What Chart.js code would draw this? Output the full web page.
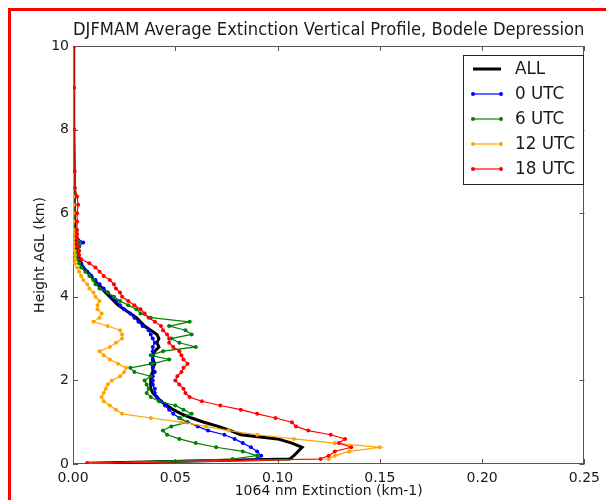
<!DOCTYPE html>
<html>
<head>
<meta charset="utf-8">
<script src="https://cdn.jsdelivr.net/npm/chart.js@4"></script>
<style>
  html, body { margin: 0; padding: 0; background: #fff; }
  #wrap { position: relative; width: 606px; height: 500px; overflow: hidden; }
  #wrap canvas { position: absolute; left: 0; top: 0; }
  #frame { position: absolute; left: 8px; top: 8px; width: 640px; height: 540px;
           border-top: 3px solid #f00; border-left: 3px solid #f00; pointer-events: none; }
</style>
</head>
<body>
<div id="wrap">
  <canvas id="chart" width="606" height="500"></canvas>
  <div id="frame"></div>
</div>
<script>
// heights (km AGL) shared by every profile
const heights = [0.02, 0.12, 0.2, 0.3, 0.4, 0.5, 0.6, 0.7, 0.8, 0.9,
  1.0, 1.1, 1.2, 1.3, 1.4, 1.5, 1.6, 1.7, 1.8, 1.9,
  2.0, 2.1, 2.2, 2.3, 2.4, 2.5, 2.6, 2.7, 2.8, 2.9,
  3.0, 3.1, 3.2, 3.3, 3.4, 3.5, 3.6, 3.7, 3.8, 3.9,
  4.0, 4.1, 4.2, 4.3, 4.4, 4.5, 4.6, 4.7, 4.8, 4.9,
  5.0, 5.1, 5.2, 5.3, 5.4, 5.5, 5.6, 5.8, 6.0, 6.2,
  6.4, 6.6, 7.0, 8.0, 9.0, 10.0];

// 1064 nm extinction (km-1)
const extAll = [0.007, 0.106, 0.108, 0.110, 0.112, 0.107, 0.100, 0.082, 0.077, 0.071,
  0.064, 0.058, 0.053, 0.049, 0.046, 0.043, 0.041, 0.039, 0.038, 0.038,
  0.038, 0.038, 0.039, 0.039, 0.040, 0.039, 0.039, 0.040, 0.042, 0.041,
  0.042, 0.041, 0.038, 0.035, 0.033, 0.031, 0.028, 0.025, 0.022, 0.020,
  0.018, 0.016, 0.014, 0.012, 0.010, 0.009, 0.007, 0.005, 0.004, 0.003,
  0.002, 0.002, 0.0015, 0.0015, 0.001, 0.001, 0.001, 0.0008, 0.0008, 0.0007,
  0.0006, 0.0005, 0.0005, 0.0004, 0.0004, 0.0003];

const ext00 = [0.007, 0.090, 0.092, 0.090, 0.087, 0.083, 0.079, 0.074, 0.066, 0.061,
  0.056, 0.052, 0.049, 0.047, 0.045, 0.043, 0.041, 0.040, 0.040, 0.039,
  0.039, 0.039, 0.040, 0.039, 0.038, 0.039, 0.039, 0.039, 0.039, 0.040,
  0.039, 0.038, 0.037, 0.034, 0.032, 0.030, 0.028, 0.025, 0.023, 0.021,
  0.019, 0.017, 0.015, 0.013, 0.011, 0.009, 0.007, 0.005, 0.004, 0.003,
  0.0025, 0.002, 0.003, 0.005, 0.002, 0.0015, 0.001, 0.0008, 0.0006, 0.0005,
  0.0004, 0.0004, 0.0003, 0.0003, 0.0003, 0.0003];

const ext06 = [0.008, 0.078, 0.090, 0.083, 0.070, 0.060, 0.052, 0.046, 0.044, 0.048,
  0.056, 0.052, 0.058, 0.054, 0.050, 0.042, 0.038, 0.036, 0.037, 0.036,
  0.035, 0.038, 0.030, 0.028, 0.039, 0.047, 0.038, 0.044, 0.060, 0.052,
  0.048, 0.058, 0.055, 0.047, 0.057, 0.038, 0.033, 0.031, 0.027, 0.023,
  0.020, 0.017, 0.013, 0.011, 0.010, 0.008, 0.006, 0.004, 0.003, 0.002,
  0.002, 0.002, 0.003, 0.003, 0.002, 0.001, 0.0008, 0.0006, 0.0005, 0.0004,
  0.0004, 0.0003, 0.0003, 0.0003, 0.0003, 0.0003];

const ext12 = [0.008, 0.125, 0.128, 0.135, 0.150, 0.128, 0.108, 0.090, 0.076, 0.065,
  0.053, 0.038, 0.024, 0.021, 0.018, 0.015, 0.014, 0.015, 0.016, 0.017,
  0.019, 0.023, 0.025, 0.026, 0.022, 0.018, 0.015, 0.013, 0.018, 0.021,
  0.024, 0.024, 0.023, 0.017, 0.010, 0.013, 0.014, 0.012, 0.012, 0.013,
  0.011, 0.010, 0.008, 0.007, 0.005, 0.004, 0.003, 0.002, 0.001, 0.001,
  0.001, 0.0008, 0.0006, 0.0005, 0.0005, 0.0004, 0.0004, 0.0003, 0.0003, 0.0003,
  0.0003, 0.0003, 0.0003, 0.0003, 0.0003, 0.0003];

const ext18 = [0.007, 0.121, 0.125, 0.128, 0.136, 0.130, 0.133, 0.126, 0.115, 0.109,
  0.107, 0.099, 0.090, 0.082, 0.072, 0.063, 0.057, 0.055, 0.054, 0.052,
  0.050, 0.051, 0.053, 0.054, 0.056, 0.054, 0.053, 0.052, 0.049, 0.047,
  0.047, 0.046, 0.044, 0.043, 0.040, 0.037, 0.035, 0.033, 0.030, 0.027,
  0.024, 0.023, 0.021, 0.020, 0.018, 0.015, 0.013, 0.011, 0.008, 0.004,
  0.003, 0.003, 0.002, 0.002, 0.002, 0.002, 0.002, 0.002, 0.002, 0.0025,
  0.002, 0.001, 0.0008, 0.0006, 0.0005, 0.0005];

const seriesLabels = ["ALL", "0 UTC", "6 UTC", "12 UTC", "18 UTC"];
const seriesValues = [extAll, ext00, ext06, ext12, ext18];
const seriesColors = ["#000000", "#0000ff", "#008000", "#ffa500", "#ff0000"];

const xTicks = [0, 0.05, 0.10, 0.15, 0.20, 0.25];
const yTicks = [0, 2, 4, 6, 8, 10];

const FONT = "'DejaVu Sans', sans-serif";
const TEXT = "#1a1a1a";

// matplotlib-like box with inward ticks on all four sides
const framePlugin = {
  id: "frame",
  beforeDatasetsDraw(chart) {
    const { ctx, chartArea: a, scales: { x, y } } = chart;
    ctx.save();
    ctx.strokeStyle = "#555";
    ctx.lineWidth = 1;
    ctx.strokeRect(Math.round(a.left) + 0.5, Math.round(a.top) + 0.5,
      Math.round(a.right - a.left) - 1, Math.round(a.bottom - a.top) - 1);
    ctx.beginPath();
    xTicks.forEach(v => {
      const px = Math.round(x.getPixelForValue(v)) + 0.5;
      ctx.moveTo(px, a.bottom); ctx.lineTo(px, a.bottom - 5);
      ctx.moveTo(px, a.top); ctx.lineTo(px, a.top + 5);
    });
    yTicks.forEach(v => {
      const py = Math.round(y.getPixelForValue(v)) + 0.5;
      ctx.moveTo(a.left, py); ctx.lineTo(a.left + 5, py);
      ctx.moveTo(a.right, py); ctx.lineTo(a.right - 5, py);
    });
    ctx.stroke();
    ctx.restore();
  }
};

// boxed legend, line samples with a marker at each end
const legendPlugin = {
  id: "boxLegend",
  afterDraw(chart) {
    const { ctx } = chart;
    const bx = 463, by = 55, bw = 120, bh = 129;
    ctx.save();
    ctx.fillStyle = "#fff";
    ctx.fillRect(bx, by, bw, bh);
    ctx.strokeStyle = "#222";
    ctx.lineWidth = 1;
    ctx.strokeRect(bx + 0.5, by + 0.5, bw, bh);
    ctx.font = "16.8px " + FONT;
    ctx.textBaseline = "middle";
    chart.data.datasets.forEach((ds, i) => {
      const ly = 69 + i * 25;
      ctx.strokeStyle = ds.borderColor;
      ctx.lineWidth = ds.borderWidth;
      ctx.beginPath();
      ctx.moveTo(473, ly); ctx.lineTo(501, ly);
      ctx.stroke();
      if (ds.pointRadius > 0) {
        ctx.fillStyle = ds.borderColor;
        [473, 501].forEach(px => {
          ctx.beginPath(); ctx.arc(px, ly, 2, 0, Math.PI * 2); ctx.fill();
        });
      }
      ctx.fillStyle = TEXT;
      ctx.fillText(ds.label, 515, ly + 1);
    });
    ctx.restore();
  }
};

const datasets = seriesLabels.map((label, i) => ({
  label,
  data: heights.map((h, k) => ({ x: seriesValues[i][k], y: h })),
  showLine: true,
  borderColor: seriesColors[i],
  backgroundColor: seriesColors[i],
  borderWidth: i === 0 ? 3 : 1.2,
  pointRadius: i === 0 ? 0 : 2,
  pointBorderWidth: 0,
  pointBackgroundColor: seriesColors[i],
  order: seriesLabels.length - i
}));

new Chart(document.getElementById("chart").getContext("2d"), {
  type: "scatter",
  data: { datasets },
  options: {
    responsive: false,
    animation: false,
    events: [],
    layout: { padding: { top: 20.4, right: 18, bottom: 0, left: 0 } },
    plugins: {
      legend: { display: false },
      tooltip: { enabled: false },
      title: {
        display: true,
        fullSize: false,
        text: "DJFMAM Average Extinction Vertical Profile, Bodele Depression",
        color: TEXT,
        font: { family: FONT, size: 16.8, weight: "normal", lineHeight: 1.2 },
        padding: { top: 0, bottom: 5.4 }
      }
    },
    scales: {
      x: {
        type: "linear", min: 0, max: 0.25,
        grid: { display: false, drawTicks: false },
        border: { display: false },
        afterBuildTicks: s => { s.ticks = xTicks.map(v => ({ value: v })); },
        ticks: {
          callback: v => v.toFixed(2),
          padding: 6, maxRotation: 0, autoSkip: false,
          color: TEXT, font: { family: FONT, size: 14 }
        },
        title: {
          display: true, text: "1064 nm Extinction (km-1)",
          color: TEXT, font: { family: FONT, size: 14, lineHeight: 1.2 },
          padding: { top: 0, bottom: 0 }
        },
        afterFit: s => { s.height = 36; }
      },
      y: {
        type: "linear", min: 0, max: 10,
        grid: { display: false, drawTicks: false },
        border: { display: false },
        afterBuildTicks: s => { s.ticks = yTicks.map(v => ({ value: v })); },
        ticks: {
          padding: 4, autoSkip: false,
          color: TEXT, font: { family: FONT, size: 14 }
        },
        title: {
          display: true, text: "Height AGL (km)",
          color: TEXT, font: { family: FONT, size: 14, lineHeight: 1.2 },
          padding: { top: 31.6, bottom: 0 }
        },
        afterFit: s => { s.width = 73; }
      }
    }
  },
  plugins: [framePlugin, legendPlugin]
});
</script>
</body>
</html>
